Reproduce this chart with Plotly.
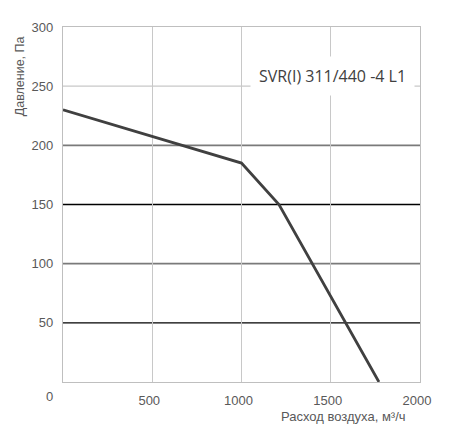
import plotly.graph_objects as go

# Fan curve
airflow = [0, 1000, 1210, 1770]
pressure = [230, 185, 150, 0]

x_ticks = [500, 1000, 1500, 2000]
y_ticks = [50, 100, 150, 200, 250, 300]
grid_light = [250]
grid_dark = [100, 200]
grid_black = [50, 150]

model_name = "SVR(I) 311/440 -4 L1"
x_title = "Расход воздуха, м³/ч"
y_title = "Давление, Па"

tick_font = dict(family="Liberation Sans, Arial", size=13, color="#595959")

fig = go.Figure()
fig.add_trace(go.Scatter(
    x=airflow, y=pressure, mode="lines",
    line=dict(color="#404040", width=2.8),
    showlegend=False, hoverinfo="skip",
))

# horizontal grid lines have different shades in the original
for v in grid_light:
    fig.add_hline(y=v, line_color="#c8c8c8", line_width=1.3, layer="below")
for v in grid_dark:
    fig.add_hline(y=v, line_color="#7a7a7a", line_width=1.8, layer="below")
for v in grid_black:
    fig.add_hline(y=v, line_color="#000000", line_width=1.3, layer="below")

# page body adds 8px, so the figure is 8px smaller than the window
fig.update_layout(
    width=446, height=434,
    margin=dict(l=55, r=34, t=17, b=60),
    plot_bgcolor="white", paper_bgcolor="white",
    xaxis=dict(
        range=[0, 2000], tickvals=x_ticks, ticks="", tickfont=tick_font,
        showgrid=True, gridcolor="#c8c8c8", gridwidth=1.3,
        showline=True, linecolor="#bfbfbf", linewidth=1.3, mirror=True,
        zeroline=False, ticklabelstandoff=6, ticklabelshift=-3,
    ),
    yaxis=dict(
        range=[0, 300], tickvals=y_ticks, ticks="", tickfont=tick_font,
        showgrid=False,
        showline=True, linecolor="#bfbfbf", linewidth=1.3, mirror=True,
        zeroline=False, ticklabelstandoff=6,
    ),
    annotations=[
        dict(text="0", x=0, y=0, xref="x", yref="y", showarrow=False,
             xshift=-14, yshift=-14, font=tick_font),
        dict(text=x_title, x=0.966, y=-0.098, xref="paper", yref="paper",
             xanchor="right", yanchor="middle", showarrow=False,
             font=dict(family="Liberation Sans, Arial", size=13, color="#595959")),
        dict(text=y_title, x=-0.12, y=0.98, xref="paper", yref="paper",
             xanchor="center", yanchor="top", textangle=-90, showarrow=False,
             font=dict(family="Liberation Sans, Arial", size=12.5, color="#595959")),
        dict(text=model_name, x=0.756, y=0.863, xref="paper", yref="paper",
             xanchor="center", yanchor="middle", showarrow=False,
             bgcolor="white", borderpad=8,
             font=dict(family="Open Sans", size=16, color="#404040")),
    ],
)

fig.write_html("out.html")
